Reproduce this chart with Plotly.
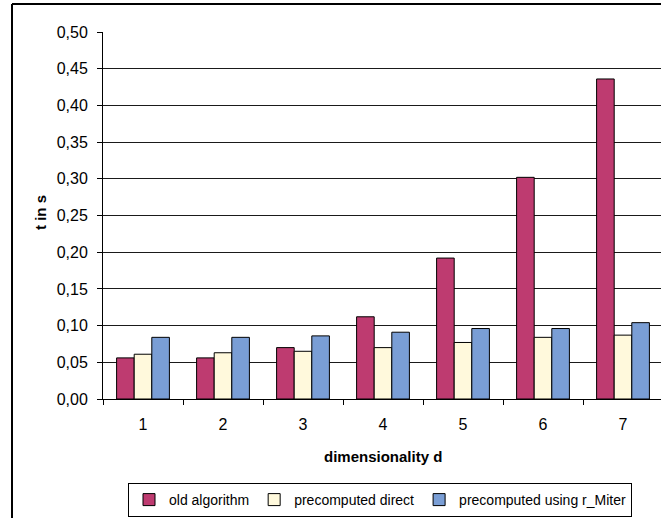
import plotly.graph_objects as go

categories = ["1", "2", "3", "4", "5", "6", "7"]
old_algorithm = [0.056, 0.056, 0.070, 0.112, 0.192, 0.302, 0.436]
precomputed_direct = [0.061, 0.063, 0.065, 0.070, 0.077, 0.084, 0.087]
precomputed_rmiter = [0.084, 0.084, 0.086, 0.091, 0.096, 0.096, 0.104]
series_names = ["old algorithm", "precomputed direct", "precomputed using r_Miter"]
colors = ["#BE3B70", "#FFF9DC", "#7A9ED5"]

W, H = 661, 518
L, R, T, B = 103, 0, 32, 119
pw = W - L - R
ph = H - T - B

def px(x):
    return (x - L) / pw

def py(y):
    return (H - B - y) / ph

fig = go.Figure()
for name, vals, col in zip(series_names, [old_algorithm, precomputed_direct, precomputed_rmiter], colors):
    fig.add_trace(go.Bar(
        x=categories, y=vals, name=name,
        marker=dict(color=col, line=dict(color="#000000", width=1)),
    ))

font_family = "Liberation Sans, Arial, sans-serif"

fig.update_layout(
    width=W, height=H,
    margin=dict(l=L, r=R, t=T, b=B, pad=0),
    paper_bgcolor="white", plot_bgcolor="white",
    barmode="group", bargap=0.34, bargroupgap=0,
    separators=", ",
    font=dict(family=font_family, size=15, color="#000000"),
    showlegend=True,
    legend=dict(
        orientation="h", x=px(128), y=py(483), xanchor="left", yanchor="top",
        bordercolor="#000000", borderwidth=1, font=dict(size=14),
        itemwidth=30, tracegroupgap=0, traceorder="normal",
    ),
    xaxis=dict(
        type="category", range=[-0.5, 6.5 - (560 - pw) / 80],
        showgrid=False, showline=True, linecolor="#000000", linewidth=1,
        ticks="outside", ticklen=5, tickcolor="#000000", tickson="boundaries",
        tickfont=dict(size=16), ticklabelstandoff=11,
    ),
    yaxis=dict(
        range=[0, 0.5], dtick=0.05, tick0=0, tickformat=".2f",
        showgrid=True, gridcolor="#1a1a1a", gridwidth=1,
        showline=True, linecolor="#000000", linewidth=1,
        ticks="outside", ticklen=5, tickcolor="#000000",
        tickfont=dict(size=16), ticklabelstandoff=6,
        zeroline=False,
    ),
    annotations=[
        dict(text="<b>dimensionality d</b>", xref="paper", yref="paper",
             x=px(383), y=py(456), xanchor="center", yanchor="middle",
             showarrow=False, font=dict(size=15)),
        dict(text="<b>t in s</b>", xref="paper", yref="paper",
             x=px(41), y=py(213), xanchor="center", yanchor="middle",
             textangle=-90, showarrow=False, font=dict(size=15)),
    ],
    shapes=[
        dict(type="line", xref="paper", yref="paper",
             x0=px(12), x1=px(12), y0=py(4), y1=py(540),
             line=dict(color="#000000", width=2)),
        dict(type="line", xref="paper", yref="paper",
             x0=px(12), x1=px(700), y0=py(4), y1=py(4),
             line=dict(color="#000000", width=2)),
    ],
)

fig.write_html("out.html")
